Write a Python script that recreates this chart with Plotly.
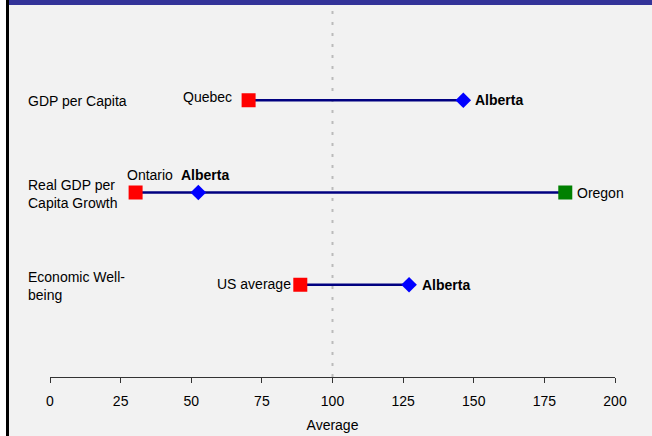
import plotly.graph_objects as go

# rows, top to bottom
categories = ["GDP per Capita", "Real GDP per<br>Capita Growth", "Economic Well-<br>being"]

# low end of each row (red squares)
low_labels = ["Quebec", "Ontario", "US average"]
low_values = [70.3, 30.3, 88.6]

# Alberta (blue diamonds)
alberta_label = "Alberta"
alberta_values = [146.3, 52.5, 127.1]

# high end shown only for the growth row (green square)
high_labels = [None, "Oregon", None]
high_values = [None, 182.4, None]

x_ticks = [0, 25, 50, 75, 100, 125, 150, 175, 200]
x_title = "Average"
ref_value = 100

FONT = "Liberation Sans, Arial, sans-serif"
BG = "#f2f2f2"

W, H = 652, 436
ML, MR, MT, MB = 50, 37, 8, 59
PW, PH = W - ML - MR, H - MT - MB


def px(x):
    return (x - ML) / PW


def py(y):
    return (H - MB - y) / PH


n = len(categories)
row_y = [n - i for i in range(n)]

fig = go.Figure()

# connecting lines
for i in range(n):
    vals = [v for v in (low_values[i], alberta_values[i], high_values[i]) if v is not None]
    fig.add_trace(go.Scatter(
        x=[min(vals), max(vals)], y=[row_y[i], row_y[i]],
        mode="lines", line=dict(color="#000080", width=2.5),
        hoverinfo="skip", showlegend=False))

fig.add_trace(go.Scatter(
    x=low_values, y=row_y, mode="markers", showlegend=False,
    marker=dict(symbol="square", size=14, color="#ff0000", line=dict(width=0))))
fig.add_trace(go.Scatter(
    x=alberta_values, y=row_y, mode="markers", showlegend=False,
    marker=dict(symbol="diamond", size=12, color="#0000ff", line=dict(width=0))))
hx = [v for v in high_values if v is not None]
hy = [row_y[i] for i, v in enumerate(high_values) if v is not None]
fig.add_trace(go.Scatter(
    x=hx, y=hy, mode="markers", showlegend=False,
    marker=dict(symbol="square", size=14, color="#008000", line=dict(width=0))))

ann = []
base = dict(xref="x", yref="y", showarrow=False, borderpad=0, borderwidth=0,
            font=dict(family=FONT, size=14, color="black"))

# placement of the point labels per row: (xanchor, xshift, yshift)
low_pos = [("right", -17, 3), ("left", -9, 18), ("right", -9, 1)]
alb_pos = [("left", 12, 0), ("left", -17, 18), ("left", 13, 0)]

for i in range(n):
    a, xs, ys = low_pos[i]
    ann.append(dict(base, x=low_values[i], y=row_y[i], text=low_labels[i],
                    xanchor=a, xshift=xs, yshift=ys))
    a, xs, ys = alb_pos[i]
    ann.append(dict(base, x=alberta_values[i], y=row_y[i], text="<b>%s</b>" % alberta_label,
                    xanchor=a, xshift=xs, yshift=ys))
    if high_values[i] is not None:
        ann.append(dict(base, x=high_values[i], y=row_y[i], text=high_labels[i],
                        xanchor="left", xshift=12, yshift=0))
    # row category on the left
    ann.append(dict(base, xref="paper", x=0, xshift=-22, y=row_y[i], yshift=-1,
                    text=categories[i], xanchor="left", align="left"))

fig.update_layout(
    width=W, height=H,
    margin=dict(l=ML, r=MR, t=MT, b=MB),
    paper_bgcolor="white", plot_bgcolor=BG,
    font=dict(family=FONT, size=14, color="black"),
    annotations=ann,
    shapes=[
        # chart background (white strip on the far left)
        dict(type="rect", xref="paper", yref="paper", x0=px(9), x1=px(W), y0=py(H), y1=py(0),
             fillcolor=BG, line=dict(width=0), layer="below"),
        # reference line at the average
        dict(type="line", xref="x", yref="paper", x0=ref_value, x1=ref_value, y0=0, y1=1,
             line=dict(color="#bbbbbb", width=2, dash="3px,8px"), layer="below"),
        # top band
        dict(type="rect", xref="paper", yref="paper", x0=px(9), x1=px(W),
             y0=py(5), y1=py(0), fillcolor="#333399", line=dict(width=0)),
        # left border
        dict(type="line", xref="paper", yref="paper", x0=px(7.5), x1=px(7.5),
             y0=py(H), y1=py(0), line=dict(color="black", width=3)),
    ],
    xaxis=dict(
        range=[0, 200], tickvals=x_ticks, showgrid=False, zeroline=False,
        showline=True, linecolor="#333333", linewidth=1,
        ticks="outside", ticklen=5, tickcolor="#333333",
        ticklabelstandoff=6, automargin=False,
        title=dict(text=x_title, standoff=12, font=dict(family=FONT, size=14, color="black")),
    ),
    yaxis=dict(range=[0, n + 1], visible=False, fixedrange=True, automargin=False),
)

fig.write_html("out.html", config={"displayModeBar": False}, post_script=(
    "document.body.style.margin='0';"
    "document.body.style.overflow='hidden';"
    "document.documentElement.style.overflow='hidden';"))
